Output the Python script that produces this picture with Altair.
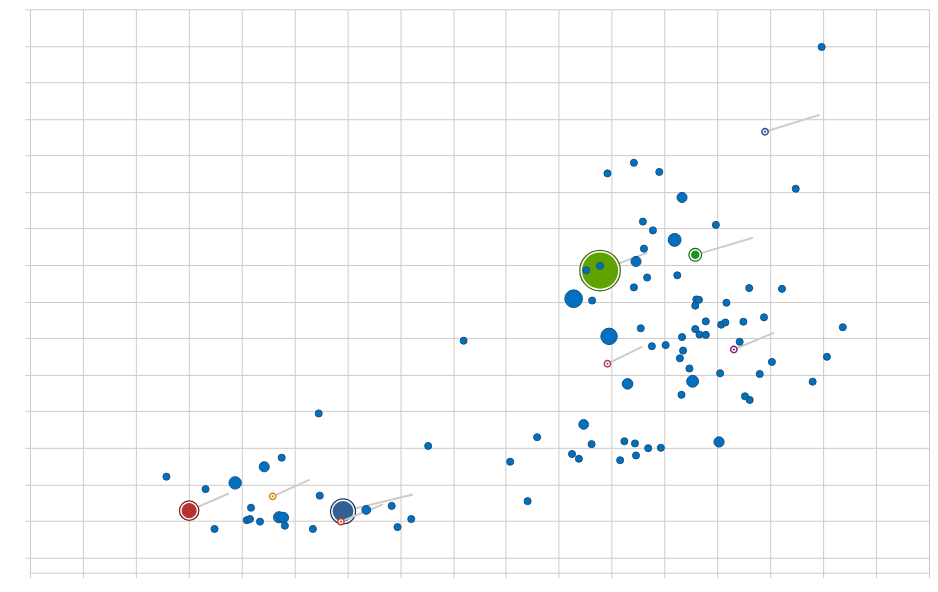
import altair as alt
import pandas as pd

# ---- ordinary (blue) bubbles ----
dot_x = [14.97, 14.48, 10.92, 11.42, 11.90, 12.33, 11.59, 11.78, 12.19, 11.61,
         11.46, 12.97, 11.67, 12.24, 10.52, 10.78, 11.42, 10.28, 10.63, 13.60,
         14.22, 12.60, 12.65, 12.58, 13.17, 10.95, 11.55, 12.78, 13.07, 13.15,
         13.49, 13.88, 12.58, 12.66, 12.78, 12.33, 11.76, 12.02, 12.35, 12.29,
         13.42, 12.47, 14.03, 11.30, 12.53, 13.05, 13.80, 12.32, 13.52, 13.61,
         14.80, 15.37, 15.07, 8.20, 5.46, 7.53, 9.08, 9.59, 9.41, 10.47,
         10.62, 10.25, 10.38, 11.24, 11.44, 11.16, 11.46, 11.69, 11.93, 13.03,
         2.58, 3.32, 3.88, 4.43, 4.76, 3.49, 4.18, 4.10, 4.16, 4.35,
         4.71, 4.79, 4.82, 5.48, 5.35, 6.36, 6.84, 6.95, 7.21]
dot_y = [13.97, 10.09, 10.51, 10.80, 10.55, 9.85, 9.19, 8.95, 8.69, 8.45,
         8.10, 9.10, 7.66, 7.72, 7.86, 7.98, 7.39, 7.08, 7.03, 7.37,
         7.35, 7.06, 7.05, 6.89, 6.97, 6.05, 6.27, 6.46, 6.37, 6.43,
         6.45, 6.57, 6.25, 6.10, 6.09, 6.03, 5.78, 5.81, 5.66, 5.45,
         5.90, 5.17, 5.35, 4.75, 4.82, 5.04, 5.02, 4.45, 4.41, 4.31,
         4.81, 6.30, 5.49, 5.93, 3.94, 3.05, 2.62, 3.29, 1.54, 3.64,
         3.10, 2.83, 2.70, 3.18, 3.12, 2.66, 2.79, 2.99, 3.00, 3.16,
         2.21, 1.87, 2.04, 2.48, 2.73, 0.78, 1.36, 1.02, 1.05, 0.98,
         1.10, 1.09, 0.87, 1.69, 0.78, 1.30, 1.41, 0.83, 1.05]
dot_pop = [53, 53, 53, 53, 53, 108, 53, 53, 177, 53,
           108, 53, 53, 53, 53, 53, 53, 333, 53, 53,
           53, 53, 53, 53, 53, 288, 53, 53, 53, 53,
           53, 53, 53, 53, 53, 53, 53, 53, 53, 53,
           53, 53, 53, 120, 150, 53, 53, 53, 53, 53,
           53, 53, 53, 53, 53, 53, 53, 53, 53, 101,
           53, 53, 53, 53, 53, 53, 53, 53, 53, 112,
           53, 53, 163, 108, 53, 53, 53, 53, 53, 53,
           132, 120, 53, 53, 53, 83, 53, 53, 53]

# ---- highlighted bubbles with trails ----
hl_names = ["Highlight A", "Highlight B", "Highlight C", "Highlight D"]
hl_x = [3.01, 5.92, 10.78, 12.58]
hl_y = [1.28, 1.26, 7.85, 8.28]
hl_pop = [241, 456, 1400, 77]
hl_x_end = [3.76, 7.24, 11.67, 13.67]
hl_y_end = [1.75, 1.72, 8.34, 8.75]
hl_fill = ["#b73232", "#2f6195", "#5fa300", "#17961e"]
hl_edge = ["#7b1b1b", "#1f3a5e", "#3d6b0a", "#0f6a15"]

# ---- small selected markers with trails ----
mk_names = ["Marker A", "Marker B", "Marker C", "Marker D", "Marker E"]
mk_x = [4.59, 5.88, 10.92, 13.31, 13.90]
mk_y = [1.67, 0.98, 5.30, 5.69, 11.65]
mk_x_end = [5.29, 6.67, 11.58, 14.07, 14.93]
mk_y_end = [2.13, 1.45, 5.77, 6.15, 12.11]
mk_color = ["#d08a20", "#c83c1e", "#b04060", "#8a1a8a", "#2a4a9e"]

x_ticks = list(range(0, 18))
y_ticks = list(range(0, 16))

dots = pd.DataFrame({"x": dot_x, "y": dot_y, "pop": dot_pop})
hl = pd.DataFrame({"name": hl_names, "x": hl_x, "y": hl_y, "pop": hl_pop,
                   "x_end": hl_x_end, "y_end": hl_y_end})
mk = pd.DataFrame({"name": mk_names, "x": mk_x, "y": mk_y,
                   "x_end": mk_x_end, "y_end": mk_y_end})

grid = "#cccccc"
xs = alt.Scale(domain=[0, 17], nice=False, zero=False)
ys = alt.Scale(domain=[-0.418, 15], nice=False, zero=False)
xa = alt.Axis(values=x_ticks, labels=False, title=None, grid=True, gridColor=grid,
              domainColor=grid, tickColor=grid, tickSize=5)
ya = alt.Axis(values=y_ticks, labels=False, title=None, grid=True, gridColor=grid,
              domainColor=grid, tickColor=grid, tickSize=5)
size_scale = alt.Scale(domain=[0, 1400], range=[0, 1320])

all_names = hl_names + mk_names
stroke_scale = alt.Scale(domain=all_names, range=hl_edge + mk_color)
fill_scale = alt.Scale(domain=all_names, range=hl_fill + mk_color)

X = alt.X("x:Q", scale=xs, axis=xa)
Y = alt.Y("y:Q", scale=ys, axis=ya)
S = alt.Size("pop:Q", scale=size_scale, legend=None)

hl_trails = alt.Chart(hl).mark_rule(color="#cccccc", strokeWidth=2).encode(
    x=X, y=Y, x2="x_end:Q", y2="y_end:Q")
hl_dark = alt.Chart(hl).mark_circle(opacity=1, fill="white", strokeWidth=5.5).encode(
    x=X, y=Y, size=S, stroke=alt.Stroke("name:N", scale=stroke_scale, legend=None))
hl_white = alt.Chart(hl).mark_circle(opacity=1, fill="white", stroke="white",
                                     strokeWidth=3).encode(x=X, y=Y, size=S)
hl_core = alt.Chart(hl).mark_circle(opacity=1, strokeWidth=0).encode(
    x=X, y=Y, size=S, fill=alt.Fill("name:N", scale=fill_scale, legend=None))

mk_trails = alt.Chart(mk).mark_rule(color="#cccccc", strokeWidth=2).encode(
    x=X, y=Y, x2="x_end:Q", y2="y_end:Q")
blue = alt.Chart(dots).mark_circle(opacity=1, fill="#0070c0", stroke="#1d4f7e",
                                   strokeWidth=1).encode(x=X, y=Y, size=S)
mk_ring = alt.Chart(mk).mark_circle(opacity=1, fill="white", strokeWidth=1.5, size=40).encode(
    x=X, y=Y, stroke=alt.Stroke("name:N", scale=stroke_scale, legend=None))
mk_dot = alt.Chart(mk).mark_circle(opacity=1, strokeWidth=0, size=5).encode(
    x=X, y=Y, fill=alt.Fill("name:N", scale=fill_scale, legend=None))

chart = alt.layer(hl_trails, hl_dark, hl_white, hl_core, mk_trails, blue, mk_ring, mk_dot).properties(
    width=900, height=564,
    padding={"left": 16, "top": 0, "right": 0, "bottom": 0},
).configure_view(strokeWidth=0)

chart.save("out.html", embed_options={"renderer": "svg", "actions": False})
